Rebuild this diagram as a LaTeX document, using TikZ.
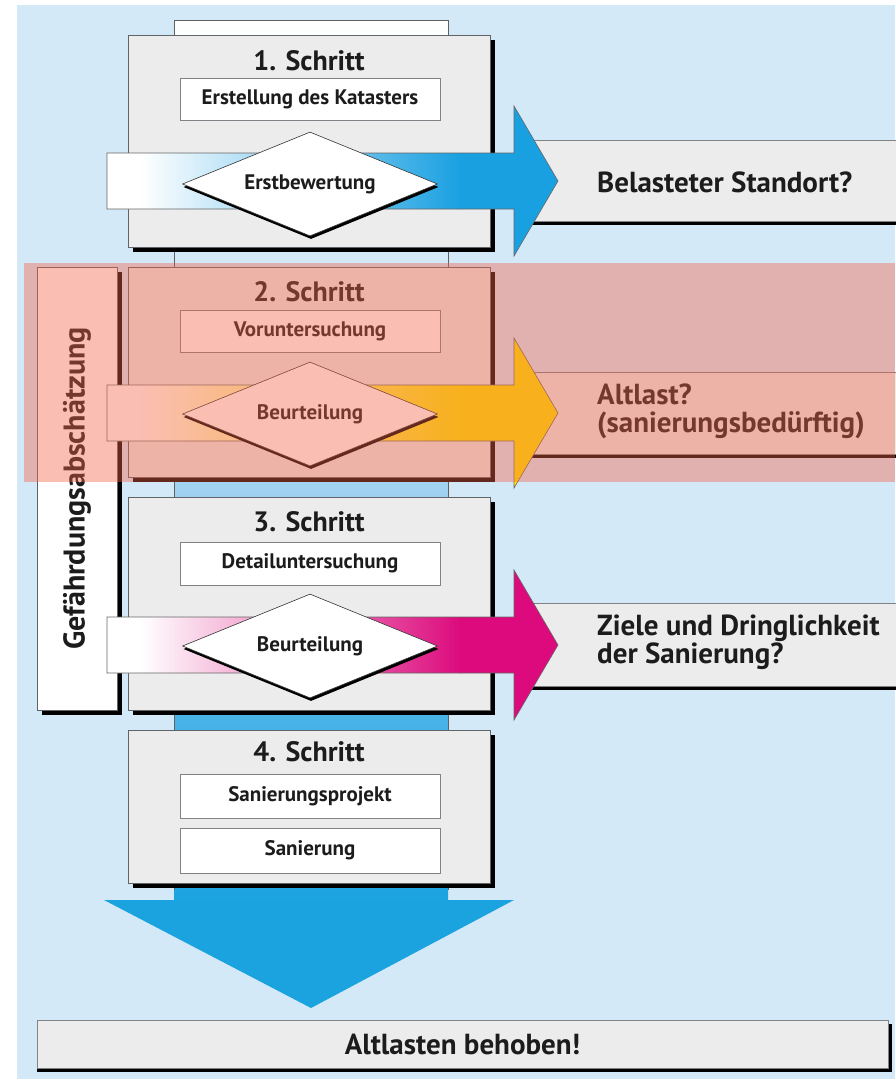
\documentclass[tikz,border=0pt]{standalone}
\usepackage{fontspec}
\setmainfont{PT Sans}
\usetikzlibrary{shapes.geometric,shadows}

\definecolor{bgblue}{RGB}{211,233,248}
\definecolor{boxgray}{RGB}{236,236,236}
\definecolor{linegray}{RGB}{95,100,105}
\definecolor{textdark}{RGB}{28,28,28}
\definecolor{pipeA}{RGB}{212,233,248}
\definecolor{pipeB}{RGB}{160,210,240}
\definecolor{pipeC}{RGB}{70,178,232}
\definecolor{bigblue}{RGB}{27,163,224}
\definecolor{arrowblue}{RGB}{25,160,225}
\definecolor{arrowyellow}{RGB}{252,232,0}
\definecolor{arrowmagenta}{RGB}{220,10,125}
\definecolor{overlayred}{RGB}{243,99,70}

\newcommand\stepTitleFont{\fontsize{28}{30}\selectfont\bfseries}
\newcommand\stepInnerFont{\fontsize{21}{24}\selectfont\bfseries}
\newcommand\answerFont{\fontsize{29}{28}\selectfont\bfseries}
\newcommand\sideFont{\fontsize{30}{32}\selectfont\bfseries}

% block arrow: #1 = vertical centre, #2 = colour at the head
\newcommand\blockarrow[2]{%
  \begin{scope}
    \clip (107,#1-28) -- (514,#1-28) -- (514,#1-75) -- (558,#1)
          -- (514,#1+75) -- (514,#1+28) -- (107,#1+28) -- cycle;
    \fill[white] (100,#1-80) rectangle (142,#1+80);
    \shade[left color=white, right color=#2] (140,#1-80) rectangle (462,#1+80);
    \fill[#2] (460,#1-80) rectangle (565,#1+80);
  \end{scope}
  \draw[arrowline] (107,#1-28) -- (514,#1-28) -- (514,#1-75) -- (558,#1)
          -- (514,#1+75) -- (514,#1+28) -- (107,#1+28) -- cycle;
}

\begin{document}
\begin{tikzpicture}[x=1pt, y=-1pt,
  stepbox/.style={draw=linegray, line width=0.9pt, fill=boxgray, inner sep=0pt,
    minimum width=362pt,
    drop shadow={opacity=1, fill=black, shadow xshift=5pt, shadow yshift=-5pt}},
  steptitle/.style={font=\stepTitleFont, text=textdark, inner sep=0pt},
  innerbox/.style={draw=linegray!80, line width=0.8pt, fill=white, inner sep=0pt,
    minimum width=260pt, font=\stepInnerFont, text=textdark},
  decision/.style={diamond, draw=black!80, line width=0.6pt, fill=white,
    inner sep=0pt, aspect=2.45, minimum width=255pt, minimum height=104pt,
    font=\stepInnerFont, text=textdark,
    drop shadow={opacity=1, fill=black, shadow xshift=1pt, shadow yshift=-3pt}},
  answerbox/.style={draw=linegray!80, line width=0.8pt, fill=boxgray, inner sep=0pt,
    minimum width=375pt,
    drop shadow={opacity=1, fill=black, shadow xshift=0pt, shadow yshift=-4pt}},
  answertext/.style={font=\answerFont, text=textdark, align=left, anchor=west, inner sep=0pt},
  sidebox/.style={draw=linegray, line width=0.9pt, fill=white, inner sep=0pt,
    drop shadow={opacity=1, fill=black, shadow xshift=5pt, shadow yshift=-5pt}},
  arrowline/.style={draw=gray!80!black, line width=0.6pt},
  pipeline/.style={draw=gray!75!black, line width=0.9pt},
]
\useasboundingbox (0,0) rectangle (895,1079);

% background
\fill[bgblue] (17,5) rectangle (895,1079);

% central pipe, getting bluer downwards
\shade[top color=white, bottom color=pipeA] (174,20) rectangle (448,256);
\shade[top color=pipeA, bottom color=pipeB] (174,255) rectangle (448,491);
\shade[top color=pipeB, bottom color=pipeC] (174,490) rectangle (448,726);
\shade[top color=pipeC, bottom color=bigblue] (174,725) rectangle (448,900.5);
\draw[pipeline] (174,890) -- (174,20) -- (448,20) -- (448,890);
% big arrow head
\fill[bigblue] (104,900) -- (514,900) -- (311,1008) -- cycle;

% side box
\node[sidebox, minimum width=80pt, minimum height=443pt] (gef) at (77,488.5) {};
\node[rotate=90, font=\sideFont, text=textdark] (geftext) at (gef.center) {Gefährdungsabschätzung};

% steps
\node[stepbox, minimum height=212pt] (s1) at (309,141) {};
\node[stepbox, minimum height=210pt] (s2) at (309,372) {};
\node[stepbox, minimum height=213pt] (s3) at (309,603.5) {};
\node[stepbox, minimum height=153pt] (s4) at (309,806.5) {};

\node[steptitle] (t1) at (309,61) {1. Schritt};
\node[steptitle] (t2) at (309,292) {2. Schritt};
\node[steptitle] (t3) at (309,522) {3. Schritt};
\node[steptitle] (t4) at (309,752) {4. Schritt};

\node[innerbox, minimum height=42pt] (k1) at (310,99) {Erstellung des Katasters};
\node[innerbox, minimum height=42pt] (k2) at (310,331) {Voruntersuchung};
\node[innerbox, minimum height=43pt] (k3) at (310,563.5) {Detailuntersuchung};
\node[innerbox, minimum height=44pt] (k4a) at (310,796) {Sanierungsprojekt};
\node[innerbox, minimum height=45pt] (k4b) at (310,850.5) {Sanierung};

% answers on the right
\node[answerbox, minimum height=81pt] (r1) at (712.5,180.5) {};
\node[answerbox, minimum height=82pt] (r2) at (712.5,413) {};
\node[answerbox, minimum height=83pt] (r3) at (712.5,644.5) {};
\node[answertext] (r1t) at (597,182) {Belasteter Standort?};
\node[answertext] (r2t) at (597,411) {Altlast?\\(sanierungsbedürftig)};
\node[answertext] (r3t) at (597,642) {Ziele und Dringlichkeit\\der Sanierung?};

% block arrows from each step to its answer
\blockarrow{181}{arrowblue}
\blockarrow{413}{arrowyellow}
\blockarrow{645}{arrowmagenta}

% decisions
\node[decision] (d1) at (310,184) {Erstbewertung};
\node[decision] (d2) at (310,414) {Beurteilung};
\node[decision] (d3) at (310,646) {Beurteilung};

% result
\node[answerbox, minimum width=851pt, minimum height=48pt, font=\answerFont, text=textdark,
  drop shadow={opacity=1, fill=black, shadow xshift=4pt, shadow yshift=-4pt}]
  (done) at (462.5,1044) {Altlasten behoben!};

% highlighted band for step 2
\fill[overlayred, fill opacity=0.41] (24,263) rectangle (895,482);
\end{tikzpicture}
\end{document}
